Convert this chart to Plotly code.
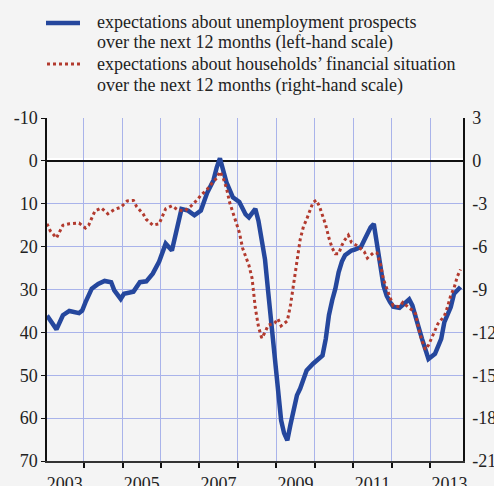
import plotly.graph_objects as go

# ---- data ----
blue_months = ["2003-01","2003-03","2003-04","2003-06","2003-08","2003-11","2003-12",
               "2004-01","2004-03","2004-05","2004-07","2004-09","2004-10","2004-12",
               "2005-01","2005-04","2005-06","2005-08","2005-10","2005-12",
               "2006-02","2006-04","2006-05","2006-06","2006-07","2006-09","2006-11",
               "2007-01","2007-02","2007-03","2007-04","2007-05","2007-06","2007-07","2007-09","2007-11",
               "2008-01","2008-03","2008-04","2008-06","2008-07","2008-08","2008-09","2008-10","2008-11","2008-12",
               "2009-01","2009-02","2009-03","2009-04","2009-05","2009-06","2009-07","2009-08","2009-09","2009-10","2009-12",
               "2010-02","2010-03","2010-04","2010-05","2010-06","2010-07","2010-08","2010-09","2010-10","2010-12",
               "2011-01","2011-03","2011-04","2011-06","2011-07","2011-08","2011-09","2011-10","2011-11","2011-12",
               "2012-01","2012-03","2012-05","2012-06","2012-07","2012-08","2012-09","2012-10","2012-11","2012-12",
               "2013-02","2013-04","2013-05","2013-07","2013-08","2013-10"]
blue_values = [36.1,38.5,39.3,36.0,35.0,35.5,34.9,
               33.0,29.8,28.7,28.0,28.3,30.2,32.2,
               31.0,30.5,28.3,28.1,26.3,23.5,
               19.3,20.9,18.0,15.0,11.2,11.6,12.7,
               11.6,9.0,7.5,6.0,4.5,1.5,-0.6,5.0,8.5,
               9.6,12.5,13.2,11.2,14.0,18.0,23.0,30.5,38.0,46.5,
               54.5,60.5,63.5,65.2,61.5,58.5,54.7,53.1,50.5,48.9,47.3,
               45.8,45.4,41.5,36.0,32.5,29.8,26.0,23.5,22.0,20.9,
               20.7,20.1,18.5,15.5,14.7,19.0,24.4,29.1,31.5,32.9,
               34.0,34.3,32.9,32.3,33.7,36.8,39.0,41.5,44.2,46.2,
               45.0,41.5,37.6,34.1,31.0,29.4]

red_months = ["2003-01","2003-02","2003-04","2003-05","2003-06","2003-08","2003-11",
              "2004-01","2004-02","2004-03","2004-04","2004-06","2004-08","2004-10","2004-12",
              "2005-02","2005-04","2005-05","2005-07","2005-08","2005-10","2005-12",
              "2006-01","2006-02","2006-04","2006-06","2006-08","2006-10","2006-12",
              "2007-01","2007-03","2007-04","2007-06","2007-07","2007-08","2007-09","2007-10","2007-11","2007-12",
              "2008-01","2008-02","2008-03","2008-04","2008-05","2008-06","2008-07","2008-08","2008-09","2008-10","2008-12",
              "2009-01","2009-02","2009-04","2009-05","2009-06","2009-07","2009-08","2009-09","2009-10","2009-12",
              "2010-01","2010-02","2010-04","2010-05","2010-06","2010-07","2010-08","2010-09","2010-10","2010-11","2010-12",
              "2011-02","2011-04","2011-05","2011-07","2011-08","2011-09","2011-10","2011-11","2011-12",
              "2012-01","2012-03","2012-04","2012-06","2012-07","2012-08","2012-09","2012-10","2012-11","2012-12",
              "2013-01","2013-02","2013-03","2013-05","2013-06","2013-07","2013-08","2013-09","2013-10"]
red_values = [-4.4,-4.9,-5.4,-5.0,-4.5,-4.4,-4.35,
              -4.7,-4.5,-4.0,-3.5,-3.3,-3.7,-3.4,-3.25,
              -2.8,-2.77,-3.2,-3.7,-4.1,-4.5,-4.4,
              -3.85,-3.35,-3.15,-3.45,-3.5,-3.15,-2.7,
              -2.4,-2.0,-1.7,-1.2,-0.75,-1.2,-1.9,-2.9,-3.6,-4.4,
              -5.0,-6.1,-6.7,-7.3,-8.2,-10.3,-11.6,-12.4,-12.0,-11.5,-11.35,
              -11.05,-11.55,-11.2,-10.1,-8.5,-7.0,-5.5,-4.6,-4.1,-2.9,
              -2.75,-3.2,-4.5,-5.4,-6.1,-6.5,-6.5,-5.9,-5.5,-5.2,-5.7,
              -5.97,-6.35,-6.8,-6.4,-6.45,-7.2,-8.3,-8.9,-9.6,
              -10.15,-10.2,-9.9,-10.3,-10.45,-10.7,-11.8,-12.6,-13.2,-12.9,
              -12.4,-11.9,-11.4,-10.85,-10.2,-9.4,-8.9,-8.1,-7.6]

left_ticks = [-10, 0, 10, 20, 30, 40, 50, 60, 70]
right_ticks = [3, 0, -3, -6, -9, -12, -15, -18, -21]
hidden_year_labels = ["2004", "2006", "2008", "2010", "2012"]

blue_legend_lines = ["expectations about unemployment prospects",
                     "over the next 12 months (left-hand scale)"]
red_legend_lines = ["expectations about households\u2019 financial situation",
                    "over the next 12 months (right-hand scale)"]

# ---- style ----
W, H = 494, 486
ML, MR, MT, MB = 47, 31, 118, 25
BG = "#f4f4f4"
GRID = "#a9b3ea"
BLUE = "#25479d"
RED = "#b23a2e"
FONT = "Liberation Serif"
TXT = "#222222"
X_RANGE = ["2003-01-15", "2013-11-08"]

PW, PH = W - ML - MR, H - MT - MB


def px_x(p):  # pixel -> paper x
    return (p - ML) / PW


def px_y(p):  # pixel -> paper y
    return 1 - (p - MT) / PH


blue_x = [m + "-15" for m in blue_months]
red_x = [m + "-15" for m in red_months]

fig = go.Figure()
fig.add_trace(go.Scatter(x=blue_x, y=blue_values, mode="lines", name=" ".join(blue_legend_lines),
                         line=dict(color=BLUE, width=4.5), yaxis="y", showlegend=False))
fig.add_trace(go.Scatter(x=red_x, y=red_values, mode="lines", name=" ".join(red_legend_lines),
                         line=dict(color=RED, width=3, dash="dot"), yaxis="y2", showlegend=False))

fig.update_layout(
    width=W, height=H,
    margin=dict(l=ML, r=MR, t=MT, b=MB, autoexpand=False),
    paper_bgcolor=BG, plot_bgcolor=BG,
    font=dict(family=FONT, size=18, color=TXT),
    showlegend=False,
    xaxis=dict(type="date", range=X_RANGE, dtick="M12", tick0="2003-01-01",
               ticklabelmode="period", tickformat="%Y",
               labelalias={y: "" for y in hidden_year_labels},
               showgrid=True, gridcolor=GRID, gridwidth=1,
               ticks="outside", ticklen=5, tickwidth=2, tickcolor="#111",
               showline=True, linecolor="#333", linewidth=2, zeroline=False,
               tickfont=dict(family=FONT, size=18, color=TXT), automargin=False),
    yaxis=dict(range=[70, -10], tickmode="array", tickvals=left_ticks,
               ticktext=[str(v) for v in left_ticks],
               showgrid=True, gridcolor=GRID, gridwidth=1,
               zeroline=True, zerolinecolor="#111", zerolinewidth=2,
               ticks="outside", ticklen=4, tickcolor="#111",
               showline=True, linecolor="#111", linewidth=1.5,
               tickfont=dict(family=FONT, size=18, color=TXT), automargin=False),
    yaxis2=dict(range=[-21, 3], overlaying="y", side="right", anchor="x",
                tickmode="array", tickvals=right_ticks, ticktext=[str(v) for v in right_ticks],
                showgrid=False, zeroline=False, ticks="",
                showline=True, linecolor="#111", linewidth=1.5,
                tickfont=dict(family=FONT, size=18, color=TXT), ticklabelstandoff=4,
                automargin=False),
)

# white rule just above the zero line
fig.add_shape(type="line", xref="paper", yref="y", x0=0, x1=1, y0=-0.45, y1=-0.45,
              line=dict(color="white", width=2), layer="between")

# ---- legend (drawn above the plot area) ----
fig.add_shape(type="line", xref="paper", yref="paper",
              x0=px_x(46), x1=px_x(80), y0=px_y(23), y1=px_y(23),
              line=dict(color=BLUE, width=4.5))
fig.add_shape(type="line", xref="paper", yref="paper",
              x0=px_x(47), x1=px_x(80), y0=px_y(64), y1=px_y(64),
              line=dict(color=RED, width=3, dash="dot"))
for i, line in enumerate(blue_legend_lines + red_legend_lines):
    fig.add_annotation(text=line, xref="paper", yref="paper", x=px_x(95), y=px_y(22 + 21 * i),
                       xanchor="left", yanchor="middle", showarrow=False,
                       font=dict(family=FONT, size=18, color=TXT))

fig.write_html("out.html", config={"displayModeBar": False},
               post_script="document.body.style.margin='0';document.body.style.overflow='hidden';")
